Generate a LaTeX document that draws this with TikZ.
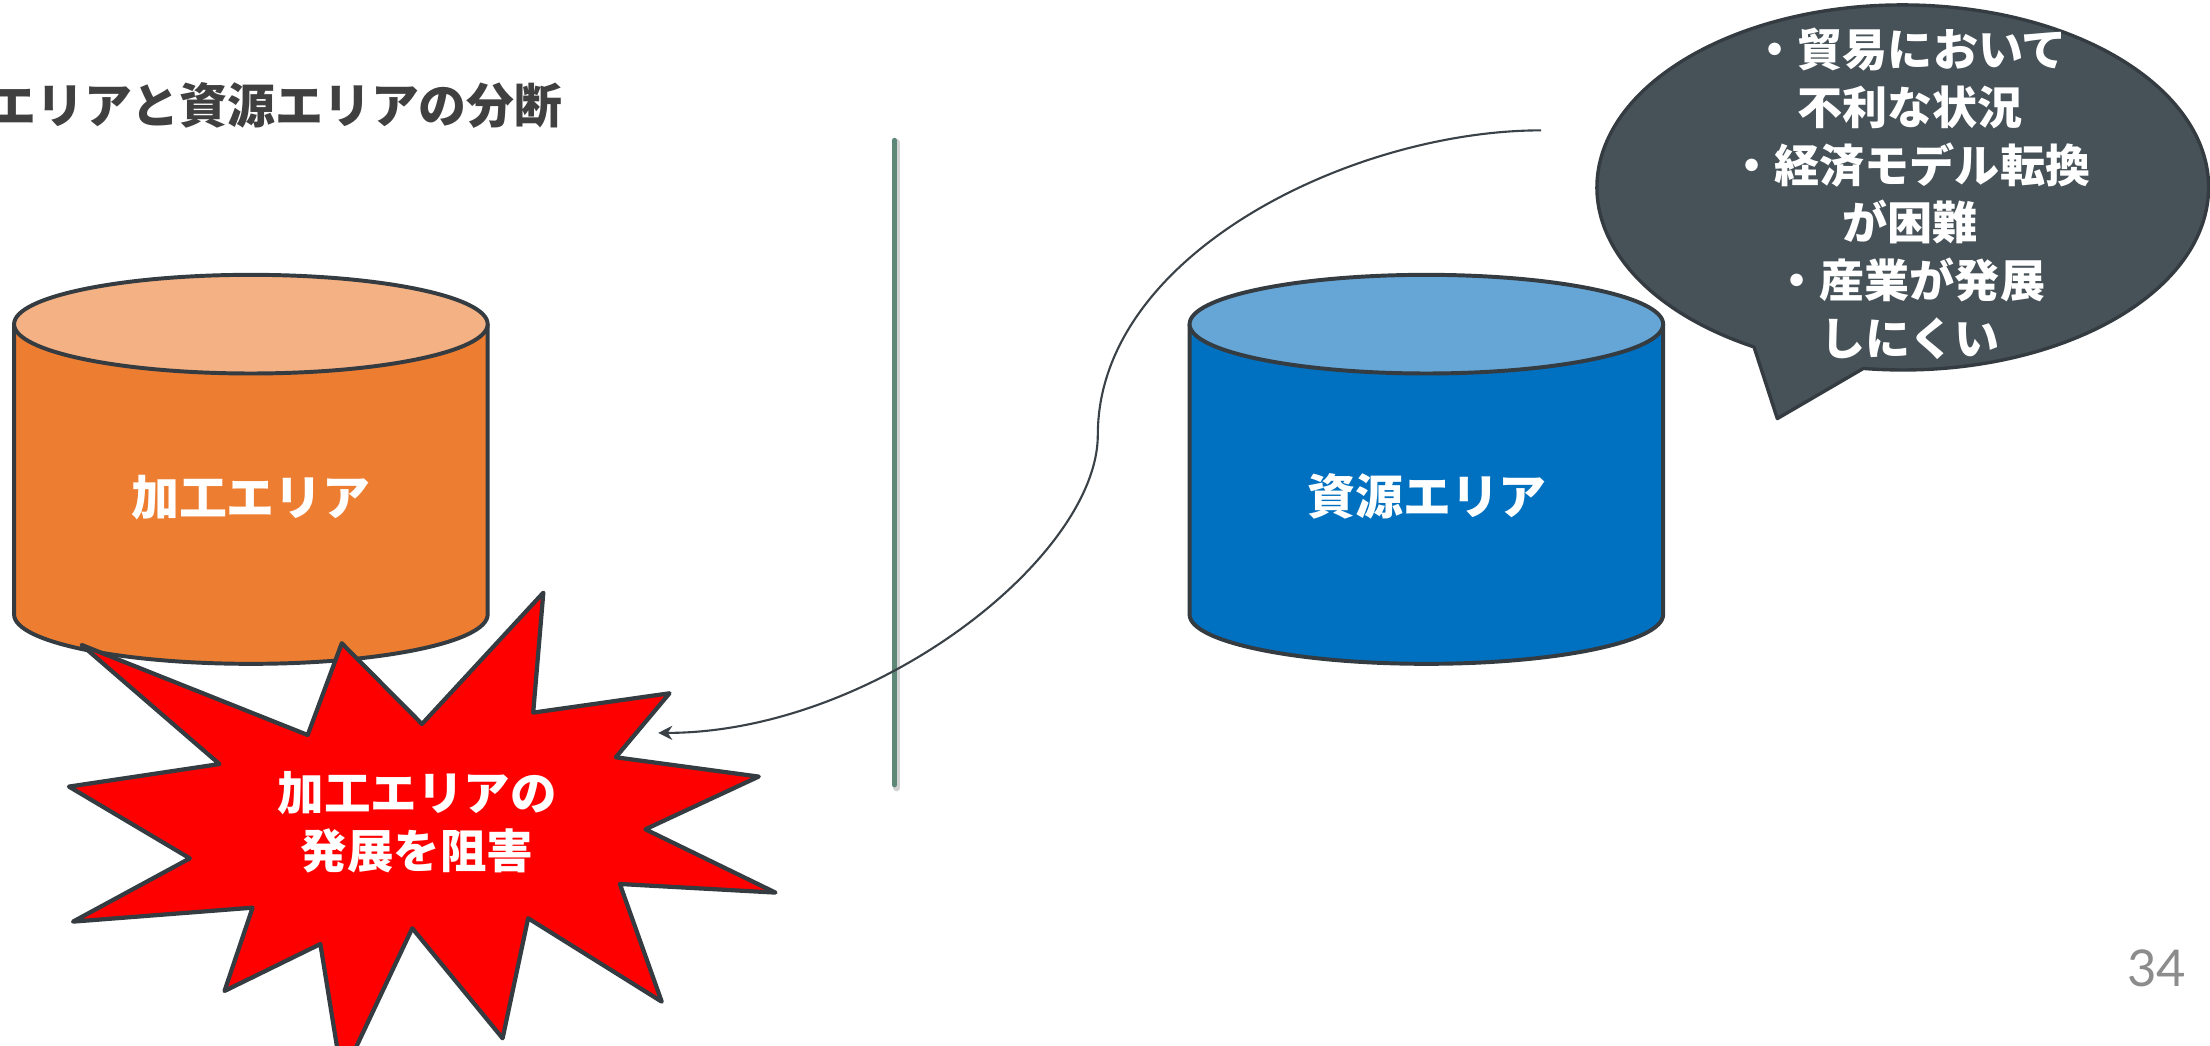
\documentclass[tikz,border=0pt]{standalone}
\usepackage{fontspec}
\newfontfamily\jp{Noto Sans CJK JP}
\newfontfamily\numfont{Lato}
\usetikzlibrary{arrows.meta,calc}
\definecolor{strk}{HTML}{343C42}
\definecolor{orgbody}{HTML}{ED7D31}
\definecolor{orgtop}{HTML}{F4B183}
\definecolor{bluebody}{HTML}{0070C0}
\definecolor{bluetop}{HTML}{65A6D6}
\definecolor{bubblefill}{HTML}{465258}
\definecolor{divider}{HTML}{5D8878}
\definecolor{titlegray}{HTML}{404040}
\definecolor{pagegray}{HTML}{8C8C8C}
\definecolor{arrowgray}{HTML}{3A4248}
\definecolor{burstred}{HTML}{FF0000}
\tikzset{
  titletext/.style={font=\jp\bfseries\fontsize{17}{20}\selectfont, text=titlegray, inner sep=0pt},
  cyl/.style={draw=strk, line width=1.4pt, line join=round},
  cyllabel/.style={font=\jp\bfseries\fontsize{17}{20}\selectfont, text=white, inner sep=0pt},
  burst/.style={draw=strk, fill=burstred, line width=1.5pt, line join=round},
  bursttext/.style={font=\jp\bfseries\fontsize{16.5}{20.6}\selectfont, text=white, align=center, inner sep=0pt},
  bubble/.style={draw=strk, fill=bubblefill, line width=1.2pt, line join=round},
  bubbletext/.style={font=\jp\bfseries\fontsize{16}{20.5}\selectfont, text=white, align=center, inner sep=0pt},
  pagenum/.style={font=\numfont\fontsize{18}{20}\selectfont, text=pagegray, inner sep=0pt},
  divline/.style={draw=divider, line width=1.6pt, line cap=round},
  divshadow/.style={draw=black!18, line width=2.4pt, line cap=round},
  conn/.style={draw=arrowgray, line width=0.75pt, -{Stealth[length=5pt,width=5pt]}}
}
\begin{document}
\begin{tikzpicture}[x=0.5pt,y=-0.5pt]
\useasboundingbox (0,0) rectangle (1568,741.5);
\clip (0,0) rectangle (1568,741.5);

% title
\node[titletext, anchor=west] (title) at (-8.5,75) {エリアと資源エリアの分断};

% divider
\coordinate (dtop) at (634.7,99.4);
\coordinate (dbot) at (634.7,557);
\draw[divshadow] ($(dtop)+(1.5,1.5)$) -- ($(dbot)+(1.5,2)$);
\draw[divline] (dtop) -- (dbot);

% left cylinder
\path[cyl, fill=orgbody] (10,230) -- (10,436) arc[start angle=180, end angle=360, x radius=84pt, y radius=17.5pt] -- (346,230) -- cycle;
\path[cyl, fill=orgtop] (178,230) ellipse [x radius=84pt, y radius=17.5pt];
\node[cyllabel] (proc) at (178,353) {加工エリア};

% right cylinder
\path[cyl, fill=bluebody] (844,230) -- (844,436) arc[start angle=180, end angle=360, x radius=84pt, y radius=17.5pt] -- (1180,230) -- cycle;
\path[cyl, fill=bluetop] (1012,230) ellipse [x radius=84pt, y radius=17.5pt];
\node[cyllabel] (res) at (1012.5,352) {資源エリア};

% connector
\coordinate (cstart) at (1093.4,92.5);
\coordinate (cmid) at (778.9,308.5);
\coordinate (cend) at (467,520);
\draw[conn] (cstart) .. controls (960,92.5) and (778.9,180) .. (cmid) .. controls (778.9,395) and (620,520) .. (cend);

% starburst
\draw[burst] (57.9,457.6) -- (218.3,521.5) -- (242.5,456.4) -- (299.4,513.7) -- (385.5,420.5)
  -- (378.3,505.6) -- (475.0,491.9) -- (436.9,537.3) -- (538.3,551.0) -- (457.9,588.4)
  -- (550.2,633.3) -- (439.8,627.2) -- (469.5,710.7) -- (374.7,651.5) -- (356.6,736.7)
  -- (292.5,658.6) -- (242.6,764.3) -- (227.3,669.8) -- (159.3,703.1) -- (179.2,644.0)
  -- (51.8,653.9) -- (134.7,609.0) -- (48.9,558.1) -- (155.7,542.1) -- cycle;
\node[bursttext] (burstlabel) at (296,583.5) {加工エリアの\\発展を阻害};

% speech bubble
\coordinate (bc) at (1350,133);
\coordinate (tip) at (1261,297);
\draw[bubble] ($(bc)+(-97.4:108.5pt and 64.75pt)$) arc[start angle=-97.4, end angle=240.9, x radius=108.5pt, y radius=64.75pt] -- (tip) -- cycle;
\node[bubbletext] (bubtext) at (1355,137.5) {・貿易において\\不利な状況\\・経済モデル転換\\が困難\\・産業が発展\\しにくい};

% page number
\node[pagenum] (page) at (1530,687) {34};
\end{tikzpicture}
\end{document}
